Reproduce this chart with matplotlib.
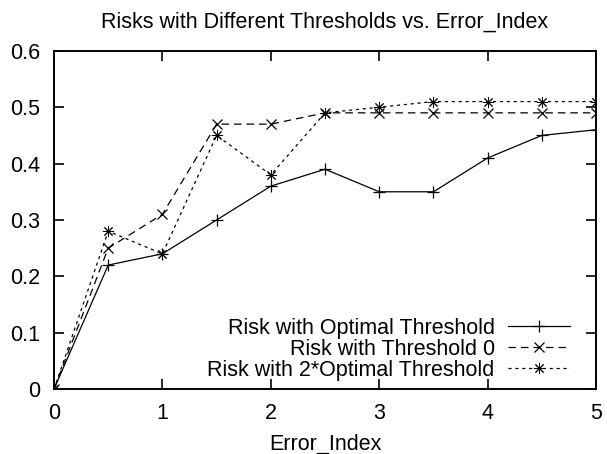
import matplotlib.pyplot as plt

plt.rcParams['font.family'] = ['Liberation Sans', 'DejaVu Sans']

# data
error_index = [0, 0.5, 1, 1.5, 2, 2.5, 3, 3.5, 4, 4.5, 5]
risk_opt = [0, 0.22, 0.24, 0.30, 0.36, 0.39, 0.35, 0.35, 0.41, 0.45, 0.46]
risk_zero = [0, 0.25, 0.31, 0.47, 0.47, 0.49, 0.49, 0.49, 0.49, 0.49, 0.49]
risk_double = [0, 0.28, 0.24, 0.45, 0.38, 0.49, 0.50, 0.51, 0.51, 0.51, 0.51]

xticks = [0, 1, 2, 3, 4, 5]
yticks = [0, 0.1, 0.2, 0.3, 0.4, 0.5, 0.6]

fs = 15.5

fig = plt.figure(figsize=(6.07, 4.54), dpi=100)
ax = fig.add_axes([0.089, 0.143, 0.893, 0.745])

ax.plot(error_index, risk_opt, color='k', lw=0.9, marker='+', ms=8, mew=0.9,
        label='Risk with Optimal Threshold')
ax.plot(error_index, risk_zero, color='k', lw=0.9, ls=(0, (6, 4)), marker='x', ms=7, mew=0.9,
        label='Risk with Threshold 0')
# gnuplot's "*" point: a + and an x drawn over each other
ax.plot(error_index, risk_double, color='k', lw=0.9, ls=(0, (2.5, 3)), marker=(8, 2, 0), ms=8, mew=0.7,
        label='Risk with 2*Optimal Threshold')

ax.set_xlim(0, 5)
ax.set_ylim(0, 0.6)
ax.set_xticks(xticks)
ax.set_yticks(yticks)
ax.set_xticklabels([str(v) for v in xticks])
ax.set_yticklabels(['0'] + ['%.1f' % v for v in yticks[1:]])
ax.tick_params(direction='in', top=True, right=True, length=7, width=1.2, labelsize=fs, pad=10)
for s in ax.spines.values():
    s.set_linewidth(1.4)

ax.set_title('Risks with Different Thresholds vs. Error_Index', fontsize=fs, pad=17)
ax.set_xlabel('Error_Index', fontsize=fs, labelpad=7)

# legend: text on the left, sample on the right, like gnuplot's key
ax.legend(loc='lower right', bbox_to_anchor=(0.952, 0.025), frameon=False, markerfirst=False,
          fontsize=fs, handlelength=2.9, labelspacing=0, borderaxespad=0, borderpad=0,
          handletextpad=0.6)

fig.savefig('out.png', dpi=100)
